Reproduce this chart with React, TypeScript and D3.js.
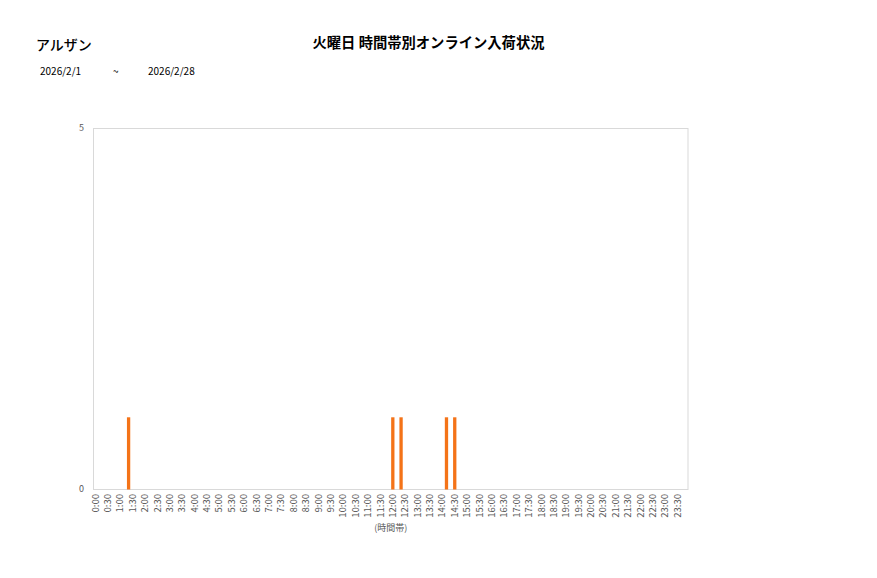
import { useEffect } from 'react'
import * as d3 from 'd3'

// 10-minute slots across the day
const hours = d3.range(0, 24)
const minutes = ['00', '10', '20', '30', '40', '50']

// arrivals per 10-minute slot, one row per hour (0:00 .. 23:00)
const arrivals = [
  0, 0, 0, 0, 0, 0, // 0
  0, 0, 1, 0, 0, 0, // 1
  0, 0, 0, 0, 0, 0, // 2
  0, 0, 0, 0, 0, 0, // 3
  0, 0, 0, 0, 0, 0, // 4
  0, 0, 0, 0, 0, 0, // 5
  0, 0, 0, 0, 0, 0, // 6
  0, 0, 0, 0, 0, 0, // 7
  0, 0, 0, 0, 0, 0, // 8
  0, 0, 0, 0, 0, 0, // 9
  0, 0, 0, 0, 0, 0, // 10
  0, 0, 0, 0, 0, 0, // 11
  1, 0, 1, 0, 0, 0, // 12
  0, 0, 0, 0, 0, 0, // 13
  0, 1, 0, 1, 0, 0, // 14
  0, 0, 0, 0, 0, 0, // 15
  0, 0, 0, 0, 0, 0, // 16
  0, 0, 0, 0, 0, 0, // 17
  0, 0, 0, 0, 0, 0, // 18
  0, 0, 0, 0, 0, 0, // 19
  0, 0, 0, 0, 0, 0, // 20
  0, 0, 0, 0, 0, 0, // 21
  0, 0, 0, 0, 0, 0, // 22
  0, 0, 0, 0, 0, 0, // 23
]

const slots = hours.flatMap((h) => minutes.map((m) => `${h}:${m}`))
const tickLabels = hours.flatMap((h) => [`${h}:00`, `${h}:30`])
const yTicks = [0, 5]

const storeName = 'アルザン'
const chartTitle = '火曜日 時間帯別オンライン入荷状況'
const dateFrom = '2026/2/1'
const dateTo = '2026/2/28'

const font = '"Noto Sans CJK JP", "Noto Sans", sans-serif'

export default function App() {
  useEffect(() => {
    document.body.style.margin = '0'
  }, [])

  const width = 877
  const height = 578
  const plot = { left: 93.5, right: 688, top: 128.5, bottom: 489.5 }

  const x = d3
    .scaleBand()
    .domain(slots)
    .range([plot.left, plot.right])
    .paddingInner(0.2)
    .paddingOuter(0.1)

  const y = d3.scaleLinear().domain([0, 5]).range([plot.bottom, plot.top])

  const center = (s: string) => (x(s) || 0) + x.bandwidth() / 2

  return (
    <svg width={width} height={height} style={{ display: 'block', fontFamily: font }}>
      <rect width={width} height={height} fill="#fff" />

      {/* titles */}
      <text x={36} y={49.5} fontSize={14} fontWeight={500} fill="#000">{storeName}</text>
      <text x={428.5} y={47.5} fontSize={14.3} fontWeight="bold" textAnchor="middle" fill="#000">
        {chartTitle}
      </text>
      <text x={40} y={74.5} fontSize={10} fill="#000">{dateFrom}</text>
      <text x={113} y={74.5} fontSize={10} fill="#000">~</text>
      <text x={148} y={74.5} fontSize={10} fill="#000">{dateTo}</text>

      {/* plot frame */}
      <rect
        x={plot.left}
        y={plot.top}
        width={plot.right - plot.left}
        height={plot.bottom - plot.top}
        fill="none"
        stroke="#d9d9d9"
      />

      {/* y labels */}
      {yTicks.map((t) => (
        <text key={t} x={84} y={y(t)} fontSize={9} fill="#595959" textAnchor="end" dominantBaseline="middle">
          {t}
        </text>
      ))}

      {/* bars */}
      {slots.map((s, i) =>
        arrivals[i] > 0 ? (
          <rect
            key={s}
            x={x(s)}
            y={y(arrivals[i])}
            width={x.bandwidth()}
            height={y(0) - y(arrivals[i])}
            fill="#f47318"
          />
        ) : null
      )}

      {/* x tick labels */}
      {tickLabels.map((t) => (
        <text
          key={t}
          transform={`translate(${center(t) + 0.5},494) rotate(-90)`}
          fontSize={9.5}
          fill="#595959"
          textAnchor="end"
          dominantBaseline="middle"
        >
          {t}
        </text>
      ))}

      <text x={(plot.left + plot.right) / 2} y={531} fontSize={9} fill="#595959" textAnchor="middle">
        (時間帯)
      </text>
    </svg>
  )
}
